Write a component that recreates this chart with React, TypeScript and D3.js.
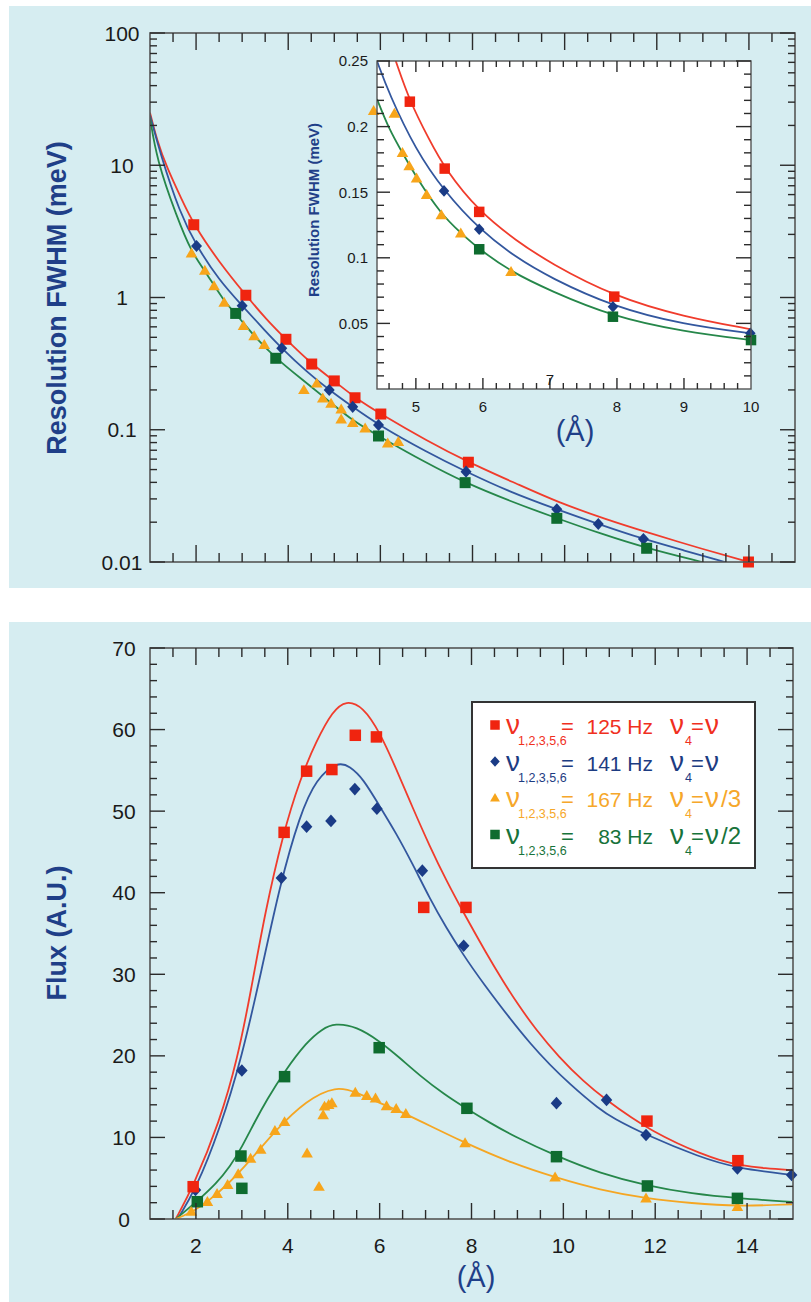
import React from 'react';
import * as d3 from 'd3';

type P = [number, number];

// ---------- Top chart (log resolution) ----------
const resTicks = [0.01, 0.1, 1, 10, 100];
const resTickLabels = ['0.01', '0.1', '1', '10', '100'];

const resRedPts: P[] = [[1.95, 3.55], [3.08, 1.04], [3.95, 0.483], [4.51, 0.314], [5.0, 0.234], [5.45, 0.1745], [6.01, 0.1315], [7.91, 0.0568], [13.99, 0.01]];
const resBluePts: P[] = [[2.01, 2.45], [3.0, 0.867], [3.86, 0.413], [4.89, 0.2], [5.4, 0.149], [5.96, 0.1087], [7.86, 0.0482], [9.83, 0.025], [10.73, 0.0194], [11.71, 0.0149]];
const resGreenPts: P[] = [[2.86, 0.758], [3.73, 0.347], [5.96, 0.0897], [7.84, 0.0398], [9.83, 0.0214], [11.78, 0.0127]];
const resOrangePts: P[] = [[1.9, 2.16], [2.19, 1.6], [2.39, 1.22], [2.61, 0.914], [3.03, 0.61], [3.26, 0.512], [3.48, 0.438], [4.34, 0.2], [4.62, 0.224], [4.75, 0.173], [4.93, 0.158], [5.15, 0.143], [5.15, 0.12], [5.4, 0.113], [5.67, 0.1025], [6.16, 0.079], [6.39, 0.081]];

const resRedFit: P[] = [[1.0, 25], [1.15, 15.5], [1.36, 9.7], [1.69, 5.5], [1.95, 3.55], [2.5, 1.85], [3.08, 1.04], [3.53, 0.68], [3.95, 0.483], [4.51, 0.314], [5.0, 0.234], [5.45, 0.1745], [6.01, 0.1315], [7.0, 0.083], [7.91, 0.0568], [9.0, 0.0385], [9.83, 0.0285], [10.9, 0.021], [11.78, 0.0168], [13.0, 0.0125], [14.0, 0.01]];
const resBlueFit: P[] = [[1.0, 24], [1.22, 12.3], [1.65, 4.33], [2.01, 2.45], [2.5, 1.35], [3.0, 0.867], [3.5, 0.56], [3.86, 0.413], [4.4, 0.275], [4.89, 0.2], [5.4, 0.149], [5.96, 0.1087], [7.0, 0.068], [7.86, 0.0482], [8.8, 0.034], [9.83, 0.025], [10.73, 0.0194], [11.71, 0.0149], [12.6, 0.0122], [13.48, 0.01]];
const resGreenFit: P[] = [[1.0, 23], [1.145, 11], [1.58, 4.08], [1.9, 2.2], [2.19, 1.6], [2.61, 0.93], [2.86, 0.758], [3.26, 0.51], [3.73, 0.347], [4.3, 0.24], [4.93, 0.16], [5.4, 0.117], [5.96, 0.0897], [7.0, 0.056], [7.84, 0.0398], [8.8, 0.029], [9.83, 0.0214], [10.8, 0.0163], [11.78, 0.0127], [12.98, 0.01]];

// ---------- Inset ----------
const insetXTicks = [5, 6, 7, 8, 9, 10];
const insetXLabels = ['5', '6', '7', '8', '9', '10'];
const insetYTicks = [0.05, 0.1, 0.15, 0.2, 0.25];
const insetYLabels = ['0.05', '0.1', '0.15', '0.2', '0.25'];

const insetRedPts: P[] = [[4.91, 0.219], [5.43, 0.168], [5.945, 0.135], [7.96, 0.0704]];
const insetBluePts: P[] = [[5.42, 0.151], [5.945, 0.1217], [7.94, 0.0627], [9.99, 0.0424]];
const insetGreenPts: P[] = [[5.945, 0.1065], [7.94, 0.0551], [10.0, 0.0373]];
const insetOrangePts: P[] = [[4.37, 0.212], [4.68, 0.21], [4.8, 0.18], [4.9, 0.17], [5.01, 0.1606], [5.16, 0.148], [5.38, 0.1326], [5.67, 0.1187], [6.42, 0.0894]];

const insetRedFit: P[] = [[4.7, 0.25], [4.91, 0.219], [5.2, 0.19], [5.43, 0.168], [5.945, 0.135], [6.5, 0.113], [7.0, 0.096], [7.96, 0.0704], [9.0, 0.055], [10.0, 0.0455]];
const insetBlueFit: P[] = [[4.42, 0.25], [4.6, 0.225], [5.0, 0.182], [5.42, 0.151], [5.945, 0.1217], [6.5, 0.1], [7.0, 0.085], [7.94, 0.0627], [9.0, 0.049], [10.0, 0.0424]];
const insetGreenFit: P[] = [[4.42, 0.221], [4.6, 0.198], [4.8, 0.18], [5.01, 0.161], [5.38, 0.133], [5.67, 0.119], [5.945, 0.1065], [6.42, 0.0894], [7.0, 0.075], [7.94, 0.0551], [9.0, 0.0437], [10.0, 0.0373]];

// ---------- Bottom chart (flux) ----------
const xTicks = [2, 4, 6, 8, 10, 12, 14];
const xTickLabels = ['2', '4', '6', '8', '10', '12', '14'];
const fluxTicks = [0, 10, 20, 30, 40, 50, 60, 70];
const fluxTickLabels = ['0', '10', '20', '30', '40', '50', '60', '70'];

const fluxRedPts: P[] = [[1.94, 3.96], [3.92, 47.4], [4.41, 54.9], [4.96, 55.1], [5.47, 59.3], [5.93, 59.1], [6.96, 38.2], [7.88, 38.2], [11.82, 12.0], [13.8, 7.15]];
const fluxBluePts: P[] = [[1.99, 3.55], [3.0, 18.2], [3.86, 41.8], [4.41, 48.1], [4.94, 48.8], [5.46, 52.7], [5.94, 50.3], [6.93, 42.7], [7.83, 33.5], [9.85, 14.2], [10.94, 14.6], [11.8, 10.3], [13.79, 6.2], [14.97, 5.4]];
const fluxGreenPts: P[] = [[2.03, 2.12], [2.98, 7.72], [3.0, 3.76], [3.93, 17.45], [5.99, 21.0], [7.9, 13.57], [9.85, 7.64], [11.83, 4.05], [13.79, 2.53]];
const fluxOrangePts: P[] = [[1.9, 0.9], [2.25, 2.1], [2.46, 3.1], [2.69, 4.2], [2.92, 5.5], [3.19, 7.4], [3.41, 8.5], [3.72, 10.8], [3.93, 11.9], [4.42, 8.05], [4.68, 3.96], [4.77, 12.75], [4.8, 13.8], [4.89, 14.0], [4.96, 14.2], [5.47, 15.5], [5.72, 15.1], [5.91, 14.8], [6.15, 13.85], [6.36, 13.5], [6.57, 12.9], [7.86, 9.3], [9.82, 5.1], [11.8, 2.53], [13.79, 1.5]];

const fluxRedFit: P[] = [[1.56, 0], [1.94, 3.96], [2.52, 12.0], [2.9, 19.5], [3.2, 28.0], [3.5, 37.5], [3.9, 47.3], [4.26, 53.8], [4.62, 58.6], [4.98, 62.3], [5.27, 63.6], [5.64, 62.8], [6.0, 59.7], [6.36, 55.2], [6.72, 50.4], [7.09, 45.7], [7.45, 41.5], [7.88, 37.0], [8.32, 32.6], [8.68, 29.2], [9.0, 26.4], [9.39, 23.3], [9.91, 19.8], [10.45, 16.8], [10.93, 14.6], [11.51, 12.3], [11.94, 10.8], [12.5, 9.2], [12.96, 8.1], [13.4, 7.2], [13.83, 6.6], [14.4, 6.2], [14.98, 6.0]];
const fluxBlueFit: P[] = [[1.6, 0], [1.99, 3.55], [2.52, 11.0], [3.0, 19.8], [3.43, 30.5], [3.83, 41.0], [4.26, 49.5], [4.62, 54.0], [5.09, 56.1], [5.35, 55.5], [5.64, 54.0], [6.0, 50.6], [6.36, 47.3], [6.72, 43.5], [7.09, 39.3], [7.45, 35.7], [7.81, 32.5], [8.17, 29.5], [9.33, 20.9], [10.2, 16.2], [10.78, 13.5], [11.07, 12.4], [11.8, 10.3], [12.96, 7.6], [13.79, 6.2], [14.98, 5.4]];
const fluxGreenFit: P[] = [[1.56, 0], [2.01, 2.1], [2.45, 4.4], [2.74, 6.4], [3.0, 8.8], [3.27, 11.8], [3.54, 14.6], [3.93, 18.1], [4.41, 21.7], [4.75, 23.3], [5.02, 24.0], [5.5, 23.6], [6.0, 21.8], [6.43, 19.8], [6.87, 17.6], [7.4, 15.3], [7.9, 13.5], [8.4, 11.8], [8.9, 10.2], [9.85, 7.7], [10.8, 5.6], [11.83, 4.05], [12.8, 3.1], [13.79, 2.53], [14.98, 2.1]];
const fluxOrangeFit: P[] = [[1.56, 0], [1.94, 0.9], [2.25, 2.1], [2.69, 4.2], [3.19, 7.2], [3.72, 10.8], [4.41, 14.6], [5.06, 16.3], [5.47, 15.6], [6.15, 13.85], [6.57, 12.9], [7.86, 9.3], [8.9, 6.8], [9.82, 5.1], [10.8, 3.55], [11.8, 2.53], [12.8, 1.92], [13.79, 1.55], [14.98, 1.8]];

// legend
const legendFreq = ['125 Hz', '141 Hz', '167 Hz', '83 Hz'];
const legendNu4 = ['ν', 'ν', 'ν/3', 'ν/2'];

const C = { red: '#f0240f', blue: '#1a3b86', orange: '#f7a51b', green: '#0e6c2f' };
const L = { red: '#f03c2c', blue: '#33579e', orange: '#f5a623', green: '#26874a' };
const TXT = { red: '#f0301e', blue: '#1d3c82', orange: '#f6a72a', green: '#17733a' };
const AXIS_BLUE = '#1f3f88';
const BG = '#d6edf1';
const FONT = '"Liberation Sans", Arial, Helvetica, sans-serif';

type Shape = 'square' | 'diamond' | 'triangle';

function marker(shape: Shape, x: number, y: number, color: string, s: number, key: string) {
  if (shape === 'square') {
    return <rect key={key} x={x - s / 2} y={y - s / 2} width={s} height={s} fill={color} />;
  }
  if (shape === 'diamond') {
    const w = s * 0.5, h = s * 0.55;
    return <path key={key} d={`M${x},${y - h}L${x + w},${y}L${x},${y + h}L${x - w},${y}Z`} fill={color} />;
  }
  const a = s * 0.58;
  return <path key={key} d={`M${x},${y - a}L${x + a},${y + a * 0.72}L${x - a},${y + a * 0.72}Z`} fill={color} />;
}

type Side = 'top' | 'bottom' | 'left' | 'right';
function ticks(vals: number[], scale: (v: number) => number, side: Side, at: number, len: number, key: string, stroke = '#2b2b2b', sw = 1.4) {
  return vals.map((v, i) => {
    const p = scale(v);
    let x1 = 0, x2 = 0, y1 = 0, y2 = 0;
    if (side === 'bottom') { x1 = x2 = p; y1 = at; y2 = at - len; }
    if (side === 'top') { x1 = x2 = p; y1 = at; y2 = at + len; }
    if (side === 'left') { y1 = y2 = p; x1 = at; x2 = at + len; }
    if (side === 'right') { y1 = y2 = p; x1 = at; x2 = at - len; }
    return <line key={key + i} x1={x1} x2={x2} y1={y1} y2={y2} stroke={stroke} strokeWidth={sw} />;
  });
}

export default function App() {
  const xT = d3.scaleLinear().domain([1, 15]).range([150, 795]);
  const yT = d3.scaleLog().domain([0.01, 100]).range([562, 33]);
  const xI = d3.scaleLinear().domain([4.42, 10]).range([377, 751]);
  const yI = d3.scaleLinear().domain([0, 0.25]).range([389, 61]);
  const xB = d3.scaleLinear().domain([1, 15]).range([150, 793]);
  const yB = d3.scaleLinear().domain([0, 70]).range([1219, 648]);

  const lineT = d3.line<P>().x(d => xT(d[0])).y(d => yT(d[1])).curve(d3.curveBasis);
  const lineI = d3.line<P>().x(d => xI(d[0])).y(d => yI(d[1])).curve(d3.curveBasis);
  const lineB = d3.line<P>().x(d => xB(d[0])).y(d => yB(d[1])).curve(d3.curveBasis);

  const halfSteps = d3.range(1.5, 15, 0.5).filter(v => Math.abs(v % 2) > 1e-6);
  const logMinor: number[] = [];
  [0.01, 0.1, 1, 10].forEach(d => { for (let k = 2; k <= 9; k++) logMinor.push(d * k); });
  const insetXMinor = d3.range(4.6, 10, 0.2).filter(v => Math.abs(v - Math.round(v)) > 1e-6);
  const insetYMinor = d3.range(0.01, 0.25, 0.01).filter(v => Math.abs(v / 0.05 - Math.round(v / 0.05)) > 1e-6);
  const fluxMinor = d3.range(2, 70, 2).filter(v => v % 10 !== 0);

  const series = [
    { pts: resRedPts, fit: resRedFit, c: 'red' as const, shape: 'square' as Shape, s: 11 },
    { pts: resBluePts, fit: resBlueFit, c: 'blue' as const, shape: 'diamond' as Shape, s: 11 },
    { pts: resGreenPts, fit: resGreenFit, c: 'green' as const, shape: 'square' as Shape, s: 11 },
  ];

  const legendRows: { c: 'red' | 'blue' | 'orange' | 'green'; shape: Shape }[] = [
    { c: 'red', shape: 'square' }, { c: 'blue', shape: 'diamond' }, { c: 'orange', shape: 'triangle' }, { c: 'green', shape: 'square' },
  ];

  return (
    <svg width={811} height={1302} style={{ position: 'absolute', left: 0, top: 0, fontFamily: FONT }}>
      <rect x={0} y={0} width={811} height={1302} fill="#ffffff" />
      <defs>
        <clipPath id="clipT"><rect x={150} y={33} width={645} height={529} /></clipPath>
        <clipPath id="clipI"><rect x={377} y={61} width={374} height={328} /></clipPath>
        <clipPath id="clipB"><rect x={150} y={648} width={643} height={571} /></clipPath>
      </defs>

      {/* ================= TOP PANEL ================= */}
      <rect x={9} y={6} width={802} height={582} fill={BG} />
      <g clipPath="url(#clipT)">
        {series.map(s => <path key={'tl' + s.c} d={lineT(s.fit) || ''} fill="none" stroke={L[s.c]} strokeWidth={1.8} />)}
      </g>
      {resOrangePts.map((d, i) => marker('triangle', xT(d[0]), yT(d[1]), C.orange, 10, 'to' + i))}
      {series.map(s => s.pts.map((d, i) => marker(s.shape, xT(d[0]), yT(d[1]), C[s.c], s.s, 't' + s.c + i)))}

      <rect x={150} y={33} width={645} height={529} fill="none" stroke="#555" strokeWidth={1.6} />
      {ticks(xTicks, xT, 'bottom', 562, 17, 'tbM')}
      {ticks(halfSteps, xT, 'bottom', 562, 9, 'tbm')}
      {ticks(xTicks, xT, 'top', 33, 17, 'ttM')}
      {ticks(halfSteps, xT, 'top', 33, 9, 'ttm')}
      {ticks(resTicks, yT, 'left', 150, 15, 'tlM')}
      {ticks(logMinor, yT, 'left', 150, 7, 'tlm')}
      {ticks(resTicks, yT, 'right', 795, 15, 'trM')}
      {ticks(logMinor, yT, 'right', 795, 7, 'trm')}
      {resTicks.map((v, i) => (
        <text key={'tyl' + i} x={122} y={yT(v)} dy="0.36em" textAnchor="middle" fontSize={21} fill="#1a1a1a">{resTickLabels[i]}</text>
      ))}
      <text transform="translate(56,298) rotate(-90)" textAnchor="middle" dy="0.36em" fontSize={27} fontWeight="bold" fill={AXIS_BLUE}>Resolution FWHM (meV)</text>

      {/* inset */}
      <rect x={377} y={61} width={374} height={328} fill="#ffffff" />
      <g clipPath="url(#clipI)">
        <path d={lineI(insetRedFit) || ''} fill="none" stroke={L.red} strokeWidth={1.8} />
        <path d={lineI(insetBlueFit) || ''} fill="none" stroke={L.blue} strokeWidth={1.8} />
        <path d={lineI(insetGreenFit) || ''} fill="none" stroke={L.green} strokeWidth={1.8} />
      </g>
      {insetOrangePts.map((d, i) => marker('triangle', xI(d[0]), yI(d[1]), C.orange, 10, 'io' + i))}
      {insetRedPts.map((d, i) => marker('square', xI(d[0]), yI(d[1]), C.red, 10.5, 'ir' + i))}
      {insetBluePts.map((d, i) => marker('diamond', xI(d[0]), yI(d[1]), C.blue, 10.5, 'ib' + i))}
      {insetGreenPts.map((d, i) => marker('square', xI(d[0]), yI(d[1]), C.green, 10.5, 'ig' + i))}
      <rect x={377} y={61} width={374} height={328} fill="none" stroke="#555" strokeWidth={1.4} />
      {ticks(insetXTicks.slice(0, 5), xI, 'bottom', 389, 11, 'ibM')}
      {ticks(insetXMinor, xI, 'bottom', 389, 6, 'ibm')}
      {ticks(insetXTicks.slice(0, 5), xI, 'top', 61, 11, 'itM')}
      {ticks(insetXMinor, xI, 'top', 61, 6, 'itm')}
      {ticks(insetYTicks, yI, 'left', 377, 13, 'ilM')}
      {ticks(insetYMinor, yI, 'left', 377, 7, 'ilm')}
      {ticks(insetYTicks, yI, 'right', 751, 15, 'irM')}
      {ticks(insetYMinor, yI, 'right', 751, 7, 'irm')}
      {insetYTicks.map((v, i) => (
        <text key={'iyl' + i} x={368} y={yI(v)} dy="0.36em" textAnchor="end" fontSize={15} fill="#1a1a1a">{insetYLabels[i]}</text>
      ))}
      {insetXTicks.map((v, i) => (
        <text key={'ixl' + i} x={xI(v)} y={v === 7 ? 380 : 407} dy="0.36em" textAnchor="middle" fontSize={15} fill="#1a1a1a">{insetXLabels[i]}</text>
      ))}
      <text transform="translate(314,210) rotate(-90)" textAnchor="middle" dy="0.36em" fontSize={15} fontWeight="bold" fill={AXIS_BLUE}>Resolution FWHM (meV)</text>
      <text x={575} y={431} dy="0.36em" textAnchor="middle" fontSize={29} fill={AXIS_BLUE}>(Å)</text>

      {/* ================= BOTTOM PANEL ================= */}
      <rect x={9} y={622} width={802} height={680} fill={BG} />
      <g clipPath="url(#clipB)">
        <path d={lineB(fluxRedFit) || ''} fill="none" stroke={L.red} strokeWidth={1.8} />
        <path d={lineB(fluxBlueFit) || ''} fill="none" stroke={L.blue} strokeWidth={1.8} />
        <path d={lineB(fluxGreenFit) || ''} fill="none" stroke={L.green} strokeWidth={1.8} />
        <path d={lineB(fluxOrangeFit) || ''} fill="none" stroke={L.orange} strokeWidth={1.8} />
      </g>
      {fluxOrangePts.map((d, i) => marker('triangle', xB(d[0]), yB(d[1]), C.orange, 10, 'bo' + i))}
      {fluxGreenPts.map((d, i) => marker('square', xB(d[0]), yB(d[1]), C.green, 11.5, 'bg' + i))}
      {fluxBluePts.map((d, i) => marker('diamond', xB(d[0]), yB(d[1]), C.blue, 11.5, 'bb' + i))}
      {fluxRedPts.map((d, i) => marker('square', xB(d[0]), yB(d[1]), C.red, 11.5, 'br' + i))}

      <rect x={150} y={648} width={643} height={571} fill="none" stroke="#555" strokeWidth={1.6} />
      {ticks(xTicks, xB, 'bottom', 1219, 16, 'bbM')}
      {ticks(halfSteps, xB, 'bottom', 1219, 9, 'bbm')}
      {ticks(xTicks, xB, 'top', 648, 17, 'btM')}
      {ticks(halfSteps, xB, 'top', 648, 9, 'btm')}
      {ticks(fluxTicks, yB, 'left', 150, 15, 'blM')}
      {ticks(fluxMinor, yB, 'left', 150, 7, 'blm')}
      {ticks(fluxTicks, yB, 'right', 793, 15, 'brM')}
      {ticks(fluxMinor, yB, 'right', 793, 7, 'brm')}
      {fluxTicks.map((v, i) => (
        <text key={'byl' + i} x={124} y={yB(v)} dy="0.36em" textAnchor="middle" fontSize={21} fill="#1a1a1a">{fluxTickLabels[i]}</text>
      ))}
      {xTicks.map((v, i) => (
        <text key={'bxl' + i} x={xB(v)} y={1245} dy="0.36em" textAnchor="middle" fontSize={21} fill="#1a1a1a">{xTickLabels[i]}</text>
      ))}
      <text transform="translate(56,933) rotate(-90)" textAnchor="middle" dy="0.36em" fontSize={27} fontWeight="bold" fill={AXIS_BLUE}>Flux (A.U.)</text>
      <text x={476} y={1277} dy="0.36em" textAnchor="middle" fontSize={29} fill={AXIS_BLUE}>(Å)</text>

      {/* legend */}
      <rect x={472} y={702} width={283} height={166} fill="#ffffff" stroke="#333" strokeWidth={2} />
      {legendRows.map((r, i) => {
        const base = 734 + i * 36.5;
        const col = TXT[r.c];
        return (
          <g key={'lg' + i} fill={col}>
            {marker(r.shape, 495, base - 9, C[r.c], r.shape === 'triangle' ? 8.5 : 9.5, 'lm' + i)}
            <text x={506} y={base} fontSize={28}>ν</text>
            <text x={518} y={base + 11} fontSize={12.5}>1,2,3,5,6</text>
            <text x={561} y={base} fontSize={22}>=</text>
            <text x={653} y={base} fontSize={21} textAnchor="end">{legendFreq[i]}</text>
            <text x={670} y={base} fontSize={28}>ν</text>
            <text x={685} y={base + 11} fontSize={12.5}>4</text>
            <text x={691} y={base} fontSize={22}>=</text>
            <text x={705} y={base} fontSize={28}>{legendNu4[i].slice(0, 1)}</text>
            {legendNu4[i].length > 1 && <text x={721} y={base} fontSize={24}>{legendNu4[i].slice(1)}</text>}
          </g>
        );
      })}
    </svg>
  );
}
